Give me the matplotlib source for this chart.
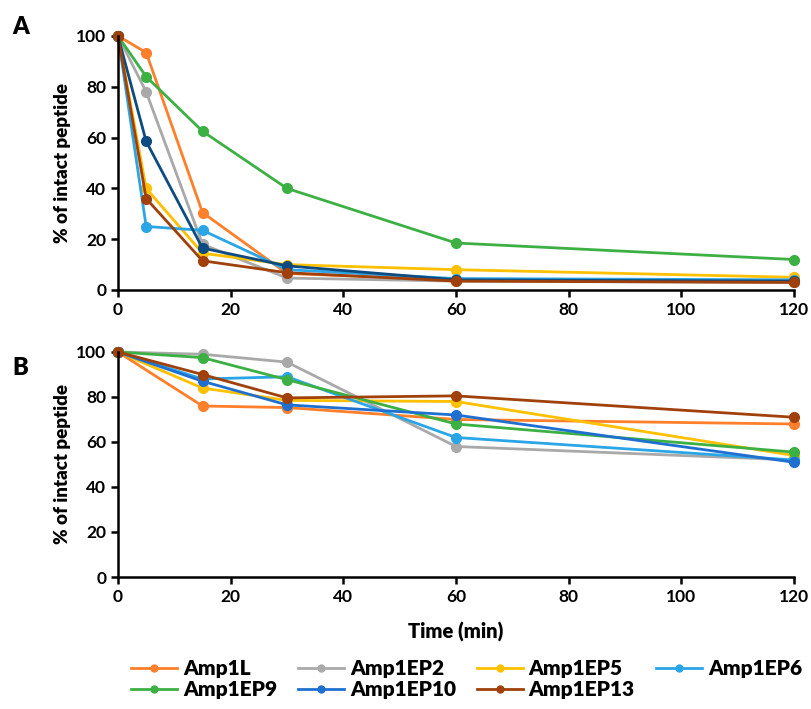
import matplotlib.pyplot as plt
from matplotlib.lines import Line2D

plt.rcParams['font.family'] = ['Lato', 'DejaVu Sans']
plt.rcParams['font.weight'] = 'bold'

names = ['Amp1L', 'Amp1EP2', 'Amp1EP5', 'Amp1EP6', 'Amp1EP9', 'Amp1EP10', 'Amp1EP13']
colors = ['#ff7f2a', '#a9a9a9', '#ffc000', '#2aa5e6', '#3cb043', '#1f6fd0', '#a0400a']
colors_a = ['#ff7f2a', '#a9a9a9', '#ffc000', '#2aa5e6', '#3cb043', '#0d4b80', '#a0400a']

time_a = [0, 5, 15, 30, 60, 120]
vals_a = {
    'Amp1L':    [100, 93.5, 30.5, 6.5, 4, 3],
    'Amp1EP2':  [100, 78, 18, 4.7, 3.5, 3],
    'Amp1EP5':  [100, 40, 14.5, 10, 8, 5],
    'Amp1EP6':  [100, 25, 23.5, 8, 4.5, 4],
    'Amp1EP9':  [100, 84, 62.5, 40, 18.5, 12],
    'Amp1EP10': [100, 58.5, 16.5, 9.5, 4, 3.5],
    'Amp1EP13': [100, 36, 11.5, 6.8, 3.5, 3],
}

time_b = [0, 15, 30, 60, 120]
vals_b = {
    'Amp1L':    [100, 76, 75.3, 70, 68],
    'Amp1EP2':  [100, 99, 95.5, 58, 52],
    'Amp1EP5':  [100, 84, 78.5, 78, 54],
    'Amp1EP6':  [100, 88, 89, 62, 52],
    'Amp1EP9':  [100, 97.5, 87.7, 68, 55.5],
    'Amp1EP10': [100, 87, 76.5, 72, 51],
    'Amp1EP13': [100, 90, 79.6, 80.5, 71],
}

fig = plt.figure(figsize=(8.11, 7.09), dpi=100)
W, H = 811, 709
ax_a = fig.add_axes([118 / W, 1 - 290 / H, (794 - 118) / W, (290 - 36) / H])
ax_b = fig.add_axes([118 / W, 1 - 577 / H, (794 - 118) / W, (577 - 352) / H])

for ax, t, vals, cols in [(ax_a, time_a, vals_a, colors_a), (ax_b, time_b, vals_b, colors)]:
    for name, c in zip(names, cols):
        ax.plot(t, vals[name], color=c, lw=2, marker='o', ms=7, clip_on=False, label=name)
    ax.set_xlim(0, 120)
    ax.set_ylim(0, 100)
    ax.set_xticks(range(0, 121, 20))
    ax.set_yticks(range(0, 101, 20))
    ax.spines['top'].set_visible(False)
    ax.spines['right'].set_visible(False)
    ax.spines['left'].set_linewidth(1.8)
    ax.spines['bottom'].set_linewidth(1.8)
    ax.tick_params(width=1.8, length=5, labelsize=12.5)
    ax.set_ylabel('% of intact peptide', fontsize=13.5, fontweight='heavy')

ax_b.set_xlabel('Time (min)', fontsize=14.5, fontweight='heavy', labelpad=12)

fig.text(12 / W, 1 - 27 / H, 'A', fontsize=17, fontweight='heavy', va='center')
fig.text(12 / W, 1 - 368 / H, 'B', fontsize=17, fontweight='heavy', va='center')

# legend fills row-wise in the reference; reorder for matplotlib's column-wise fill
order = [0, 4, 1, 5, 2, 6, 3]
handles = [Line2D([0], [0], color=colors[i], lw=2, marker='o', ms=5) for i in order]
labels = [names[i] for i in order]
fig.legend(handles, labels, loc='center', bbox_to_anchor=(0.575, 1 - 679 / H), ncol=4,
           frameon=False, handlelength=2.2, handletextpad=0.3,
           columnspacing=1.0, labelspacing=0.1,
           prop={'weight': 'heavy', 'size': 15})

fig.savefig('out.png', dpi=100)
